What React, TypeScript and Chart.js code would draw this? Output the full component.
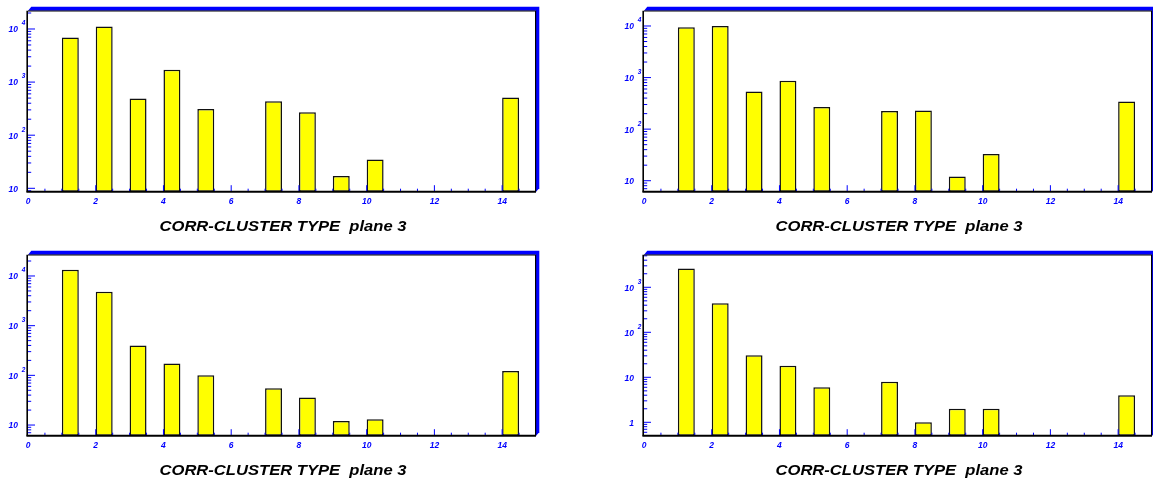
import React, { useEffect, useRef } from "react";
import { Chart, registerables } from "chart.js";

Chart.register(...registerables);

// ---- data ----
const BINS = [1, 2, 3, 4, 5, 7, 8, 9, 10, 14];
const BAR_OFFSET = 0.25; // bar occupies [bin, bin + 0.5]
const PANEL1_VALUES = [6900, 11200, 490, 1700, 310, 435, 270, 17, 35, 515];
const PANEL2_VALUES = [9500, 10000, 535, 870, 270, 225, 230, 12, 33, 345];
const PANEL3_VALUES = [13400, 4800, 400, 173, 100, 55, 36, 12, 13, 122];
const PANEL4_VALUES = [2600, 440, 31, 18, 6, 8, 1, 2, 2, 4];
const X_TICK_LABELS = [0, 2, 4, 6, 8, 10, 12, 14];
const DECADES_A = [1, 2, 3, 4];
const DECADES_B = [0, 1, 2, 3];
const TITLE = "CORR-CLUSTER TYPE  plane 3";

// ---- layout ----
const W = 540;
const H = 244;
const AREA = { left: 28, top: 10.7, right: 536, bottom: 191.7 };
const BLUE = "#0000ff";
const LABEL_FONT = "bold italic 8.5px 'Liberation Sans', Arial, sans-serif";
const SUP_FONT = "bold italic 6.5px 'Liberation Sans', Arial, sans-serif";
const TITLE_FONT = "bold italic 15px 'Liberation Sans', Arial, sans-serif";
const TITLE_WIDTH = 247;

type Panel = {
  values: number[];
  yMin: number;
  yMax: number;
  decades: number[];
  left: number;
  top: number;
};

const PANELS: Panel[] = [
  { values: PANEL1_VALUES, yMin: 8.63, yMax: 22100, decades: DECADES_A, left: 0, top: 0 },
  { values: PANEL2_VALUES, yMin: 6.12, yMax: 19800, decades: DECADES_A, left: 616, top: 0 },
  { values: PANEL3_VALUES, yMin: 6.1, yMax: 26800, decades: DECADES_A, left: 0, top: 244 },
  { values: PANEL4_VALUES, yMin: 0.504, yMax: 5300, decades: DECADES_B, left: 616, top: 244 },
];

function makePlugin(panel: Panel) {
  return {
    id: "pawFrame",
    beforeDatasetsDraw(chart: any) {
      const ctx = chart.ctx as CanvasRenderingContext2D;
      const a = chart.chartArea;
      ctx.save();
      // blue 3D shadow (top and right)
      ctx.fillStyle = BLUE;
      ctx.beginPath();
      ctx.moveTo(a.left, a.top);
      ctx.lineTo(a.left + 3.3, a.top - 4);
      ctx.lineTo(a.right + 3.3, a.top - 4);
      ctx.lineTo(a.right + 3.3, a.bottom - 3.5);
      ctx.lineTo(a.right, a.bottom);
      ctx.closePath();
      ctx.fill();
      ctx.fillStyle = "#ffffff";
      ctx.fillRect(a.left, a.top, a.right - a.left, a.bottom - a.top);
      ctx.restore();
    },
    afterDatasetsDraw(chart: any) {
      const ctx = chart.ctx as CanvasRenderingContext2D;
      const a = chart.chartArea;
      const xs = chart.scales.x;
      const ys = chart.scales.y;
      ctx.save();
      // ---- x ticks ----
      ctx.strokeStyle = BLUE;
      ctx.lineWidth = 1;
      for (let v = 0.5; v < 15; v += 0.5) {
        const px = xs.getPixelForValue(v);
        const major = v % 2 === 0;
        ctx.beginPath();
        ctx.moveTo(px, a.bottom);
        ctx.lineTo(px, a.bottom - (major ? 6.5 : 3));
        ctx.stroke();
      }
      // ---- y ticks ----
      const lo = Math.floor(Math.log10(panel.yMin));
      const hi = Math.ceil(Math.log10(panel.yMax));
      for (let e = lo; e <= hi; e++) {
        for (let k = 1; k <= 9; k++) {
          const v = k * Math.pow(10, e);
          if (v < panel.yMin || v > panel.yMax) continue;
          const py = ys.getPixelForValue(v);
          ctx.beginPath();
          ctx.moveTo(a.left, py);
          ctx.lineTo(a.left + (k === 1 ? 7 : 3.2), py);
          ctx.stroke();
        }
      }
      // ---- frame ----
      ctx.strokeStyle = "#000";
      ctx.lineWidth = 1.2;
      ctx.beginPath();
      ctx.moveTo(a.left, a.top + 0.3);
      ctx.lineTo(a.right - 0.4, a.top + 0.3);
      ctx.lineTo(a.right - 0.4, a.bottom);
      ctx.stroke();
      ctx.lineWidth = 1.6;
      ctx.beginPath();
      ctx.moveTo(a.left - 0.8, a.top);
      ctx.lineTo(a.left - 0.8, a.bottom);
      ctx.stroke();
      ctx.lineWidth = 2;
      ctx.beginPath();
      ctx.moveTo(a.left - 1.6, a.bottom);
      ctx.lineTo(a.right, a.bottom);
      ctx.stroke();

      // ---- x labels ----
      ctx.fillStyle = BLUE;
      ctx.font = LABEL_FONT;
      ctx.textAlign = "center";
      ctx.textBaseline = "alphabetic";
      X_TICK_LABELS.forEach((t) => {
        ctx.fillText(String(t), xs.getPixelForValue(t), a.bottom + 12.3);
      });
      // ---- y labels ----
      panel.decades.forEach((e) => {
        const py = ys.getPixelForValue(Math.pow(10, e));
        ctx.font = LABEL_FONT;
        ctx.textAlign = "right";
        const base = e === 0 ? "1" : "10";
        ctx.fillText(base, a.left - 10, py + 3.4);
        if (e >= 2) {
          ctx.font = SUP_FONT;
          ctx.textAlign = "left";
          ctx.fillText(String(e), a.left - 6.3, py - 3.6);
        }
      });
      // ---- title ----
      ctx.fillStyle = "#000";
      ctx.font = TITLE_FONT;
      ctx.textAlign = "left";
      const m = ctx.measureText(TITLE).width;
      const sx = TITLE_WIDTH / m;
      const cx = (a.left + a.right) / 2 + 1;
      ctx.translate(cx - TITLE_WIDTH / 2, 231.3);
      ctx.scale(sx, 1);
      ctx.fillText(TITLE, 0, 0);
      ctx.restore();
    },
  };
}

function PanelChart({ panel }: { panel: Panel }) {
  const ref = useRef<HTMLCanvasElement | null>(null);
  useEffect(() => {
    if (!ref.current) return;
    const chart = new Chart(ref.current, {
      type: "bar",
      data: {
        datasets: [
          {
            data: BINS.map((b, i) => ({ x: b + BAR_OFFSET, y: panel.values[i] })),
            backgroundColor: "#ffff00",
            borderColor: "#111111",
            borderWidth: 1.5,
            borderSkipped: false,
            barPercentage: 0.5,
            categoryPercentage: 1,
          } as any,
        ],
      },
      options: {
        responsive: false,
        animation: false,
        devicePixelRatio: 1,
        events: [],
        layout: {
          padding: {
            left: AREA.left,
            top: AREA.top,
            right: W - AREA.right,
            bottom: H - AREA.bottom,
          },
        },
        scales: {
          x: {
            type: "linear",
            min: 0,
            max: 15,
            offset: false,
            display: false,
            ticks: { stepSize: 1 },
          },
          y: {
            type: "logarithmic",
            min: panel.yMin,
            max: panel.yMax,
            display: false,
          },
        },
        plugins: {
          legend: { display: false },
          tooltip: { enabled: false },
          title: { display: false },
        },
      } as any,
      plugins: [makePlugin(panel)],
    });
    return () => chart.destroy();
  }, [panel]);
  return (
    <canvas
      ref={ref}
      width={W}
      height={H}
      style={{ position: "absolute", left: panel.left, top: panel.top, width: W, height: H }}
    />
  );
}

export default function App() {
  return (
    <div
      style={{
        position: "fixed",
        left: 0,
        top: 0,
        width: 1153,
        height: 484,
        overflow: "hidden",
        background: "#fff",
      }}
    >
      {PANELS.map((p, i) => (
        <PanelChart key={i} panel={p} />
      ))}
    </div>
  );
}
